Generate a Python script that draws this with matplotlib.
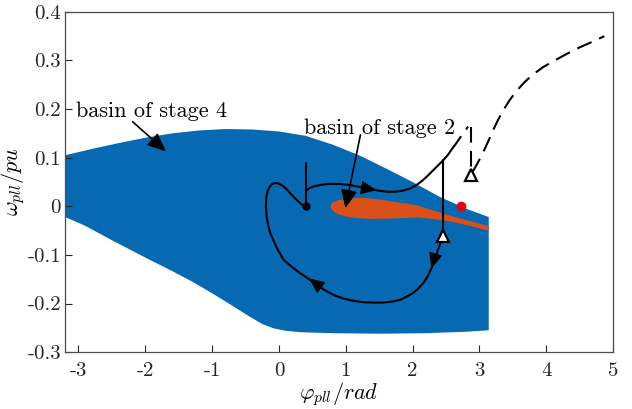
import numpy as np
import matplotlib.pyplot as plt

plt.rcParams['font.family'] = 'cmr10'
plt.rcParams['mathtext.fontset'] = 'cm'
plt.rcParams['axes.unicode_minus'] = False

BLUE = '#0769b2'
ORANGE = '#d9501a'

# basin of stage 4: upper and lower boundary
b4_up_x = [-3.2, -2.8, -2.4, -2.0, -1.6, -1.2, -0.8, -0.4, 0.0, 0.4, 0.8, 1.2, 1.6, 2.0, 2.4, 2.8, 3.14]
b4_up_y = [0.105, 0.118, 0.130, 0.141, 0.150, 0.156, 0.159, 0.158, 0.154, 0.145, 0.127, 0.105,
           0.078, 0.050, 0.020, -0.005, -0.022]
b4_lo_x = [-3.2, -2.9, -2.51, -2.02, -1.6, -1.27, -0.95, -0.68, -0.45, -0.25, -0.08, 0.1, 0.32,
           0.8, 1.5, 2.2, 2.8, 3.14]
b4_lo_y = [-0.022, -0.040, -0.069, -0.104, -0.133, -0.157, -0.183, -0.206, -0.226, -0.242, -0.251,
           -0.256, -0.259, -0.261, -0.262, -0.261, -0.258, -0.255]

# basin of stage 2
b2_up_x = [0.77, 0.79, 0.83, 0.9, 1.0, 1.15, 1.3, 1.45, 1.6, 1.8, 2.07, 2.3, 2.56, 2.85, 3.14]
b2_up_y = [0.0, 0.006, 0.010, 0.013, 0.015, 0.017, 0.017, 0.015, 0.012, 0.008, 0.002, -0.008,
           -0.019, -0.030, -0.041]
b2_lo_x = [0.77, 0.79, 0.83, 0.9, 1.0, 1.15, 1.4, 1.7, 2.07, 2.3, 2.56, 2.85, 3.14]
b2_lo_y = [0.0, -0.007, -0.012, -0.017, -0.021, -0.024, -0.026, -0.025, -0.023, -0.026, -0.031,
           -0.040, -0.050]

# trajectory: lower loop from the triangle back to the equilibrium point
loop_x = [2.46, 2.42, 2.38, 2.34, 2.29, 2.23, 2.16, 2.08, 2.0, 1.91, 1.82, 1.7, 1.55, 1.4, 1.25,
          1.1, 0.95, 0.81, 0.68, 0.55, 0.42, 0.30, 0.18, 0.07, -0.03, -0.13, -0.16, -0.185, -0.195,
          -0.19, -0.17, -0.14, -0.10, -0.06, -0.01, 0.05, 0.11, 0.17, 0.23, 0.29, 0.34, 0.38, 0.407]
loop_y = [-0.062, -0.075, -0.090, -0.108, -0.125, -0.143, -0.158, -0.170, -0.179, -0.186, -0.192,
          -0.196, -0.198, -0.198, -0.197, -0.194, -0.189, -0.182, -0.172, -0.160, -0.147, -0.136,
          -0.123, -0.110, -0.086, -0.055, -0.040, -0.020, 0.0, 0.018, 0.031, 0.040, 0.046, 0.048,
          0.047, 0.043, 0.036, 0.027, 0.018, 0.010, 0.004, 0.001, 0.0]
# jump at the equilibrium point
jump1_x = [0.407, 0.407]
jump1_y = [0.0, 0.09]
# upper branch
up_x = [0.407, 0.45, 0.52, 0.62, 0.75, 0.9, 1.05, 1.2, 1.35, 1.5, 1.62, 1.74, 1.85, 1.95, 2.05,
        2.14, 2.22, 2.30, 2.38, 2.46, 2.53, 2.59]
up_y = [0.032, 0.037, 0.041, 0.044, 0.046, 0.046, 0.044, 0.040, 0.036, 0.032, 0.030, 0.030, 0.032,
        0.036, 0.043, 0.052, 0.062, 0.073, 0.084, 0.095, 0.106, 0.118]
jump2_x = [2.46, 2.46]
jump2_y = [-0.062, 0.095]
# dashed continuation
dash1_x = [2.59, 2.65, 2.71, 2.77, 2.83]
dash1_y = [0.118, 0.129, 0.141, 0.152, 0.164]
jump3_x = [2.87, 2.87]
jump3_y = [0.164, 0.072]
dash2_x = [2.89, 2.92, 2.97, 3.03, 3.09, 3.15, 3.21, 3.28, 3.36, 3.45, 3.56, 3.68, 3.8, 3.95,
           4.1, 4.3, 4.5, 4.7, 4.87]
dash2_y = [0.070, 0.076, 0.088, 0.104, 0.121, 0.139, 0.158, 0.178, 0.198, 0.218, 0.238, 0.256,
           0.271, 0.286, 0.298, 0.313, 0.327, 0.339, 0.350]

tri_x = [2.46, 2.87]
tri_y = [-0.062, 0.065]
eq_x, eq_y = 0.407, 0.0
red_x, red_y = 2.73, 0.0

fig = plt.figure(figsize=(6.32, 4.09), dpi=100)
ax = fig.add_axes([0.103, 0.139, 0.867, 0.832])

ax.fill(b4_up_x + b4_lo_x[::-1], b4_up_y + b4_lo_y[::-1], color=BLUE, lw=0)
ax.fill(b2_up_x + b2_lo_x[::-1], b2_up_y + b2_lo_y[::-1], color=ORANGE, lw=0)

lk = dict(color='k', lw=1.5, solid_capstyle='round', solid_joinstyle='round')
ax.plot(loop_x, loop_y, **lk)
ax.plot(jump1_x, jump1_y, **lk)
ax.plot(up_x, up_y, **lk)
ax.plot(jump2_x, jump2_y, **lk)
dk = dict(color='k', lw=1.5, dashes=(7.5, 4))
ax.plot(dash1_x, dash1_y, **dk)
ax.plot(jump3_x, jump3_y, **dk)
ax.plot(dash2_x, dash2_y, **dk)

ax.plot(eq_x, eq_y, 'o', color='k', ms=5)
ax.plot(red_x, red_y, 'o', color='#e8000b', ms=6)
ax.plot(tri_x, tri_y, '^', mfc='white', mec='k', mew=1.6, ms=8, ls='none')

head_style = '-|>,head_length=0.8,head_width=0.35'


def head(x0, y0, x1, y1):
    ax.annotate('', xy=(x1, y1), xytext=(x0, y0),
                arrowprops=dict(arrowstyle=head_style, color='k', lw=0, mutation_scale=14,
                                shrinkA=0, shrinkB=0))


head(1.30, 0.037, 1.46, 0.033)
head(2.33, -0.105, 2.28, -0.128)
head(0.62, -0.166, 0.45, -0.148)

# labels
arr = dict(arrowstyle=head_style, color='k', lw=1.2, mutation_scale=14, shrinkA=0, shrinkB=0)
ax.text(-1.90, 0.195, 'basin of stage 4', fontsize=16, ha='center', va='center')
ax.annotate('', xy=(-1.69, 0.113), xytext=(-2.19, 0.174), arrowprops=arr)
ax.text(1.50, 0.161, 'basin of stage 2', fontsize=16, ha='center', va='center')
ax.annotate('', xy=(0.994, -0.004), xytext=(1.22, 0.147), arrowprops=arr)

ax.set_xlim(-3.2, 5)
ax.set_ylim(-0.3, 0.4)
ax.set_xticks(np.arange(-3, 6))
ax.set_yticks(np.round(np.arange(-0.3, 0.41, 0.1), 1))
ax.set_xticklabels([str(v) for v in range(-3, 6)])
ax.set_yticklabels(['-0.3', '-0.2', '-0.1', '0', '0.1', '0.2', '0.3', '0.4'])
ax.tick_params(direction='in', length=5, width=0.8, labelsize=15, colors='#262626')
ax.tick_params(axis='x', pad=7)
ax.tick_params(axis='y', pad=3)
for s in ax.spines.values():
    s.set_color('#4d4d4d')
    s.set_linewidth(0.9)

ax.set_xlabel(r'$\varphi_{pll}/rad$', fontsize=16, labelpad=0)
ax.set_ylabel(r'$\omega_{pll}/pu$', fontsize=16, labelpad=0)

fig.savefig('out.png', dpi=100)
